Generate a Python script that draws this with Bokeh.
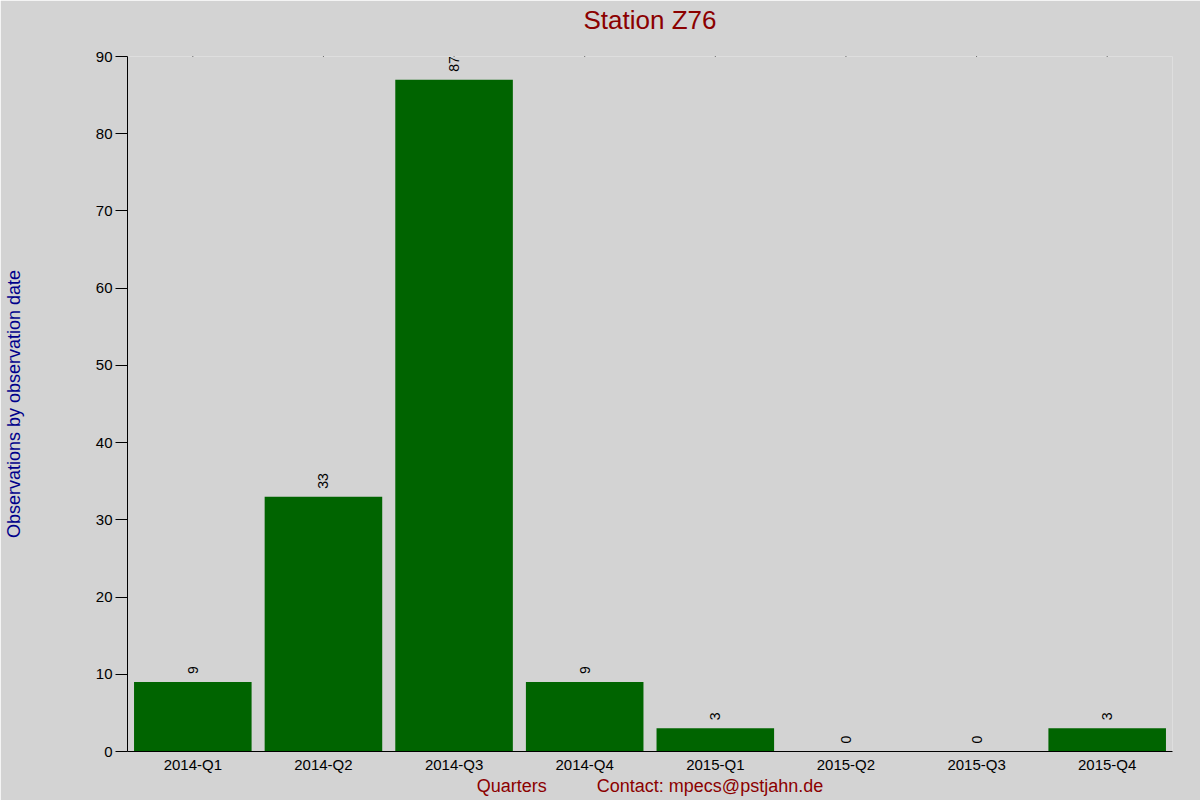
import math
from bokeh.plotting import figure
from bokeh.models import (FactorRange, Range1d, SingleIntervalTicker, ColumnDataSource,
                          CategoricalAxis, FixedTicker)
from bokeh.core.properties import value
from bokeh.embed import file_html
from bokeh.resources import INLINE

quarters = ["2014-Q1", "2014-Q2", "2014-Q3", "2014-Q4", "2015-Q1", "2015-Q2", "2015-Q3", "2015-Q4"]
counts = [9, 33, 87, 9, 3, 0, 0, 3]
count_labels = [str(c) for c in counts]
title_text = "Station Z76"
x_label = "Quarters" + "\u00a0" * 10 + "Contact: mpecs@pstjahn.de"
y_label = "Observations by observation date"
y_max = 90

FONT = "Liberation Sans"
BG = "#d3d3d3"

src = ColumnDataSource(dict(q=quarters, c=counts, t=count_labels, top=[y_max] * len(quarters)))

p = figure(
    width=1200, height=800,
    x_range=FactorRange(factors=quarters, range_padding=0),
    y_range=Range1d(0, y_max),
    output_backend="svg", toolbar_location=None,
    min_border_left=126, min_border_right=28, min_border_top=56, min_border_bottom=49,
)
p.background_fill_color = BG
p.border_fill_color = BG
p.outline_line_color = None
p.xgrid.grid_line_color = None
p.ygrid.grid_line_color = None

xa = p.below[0]
ya = p.left[0]

# top axis without ticks or labels: carries the chart title as its label
top = CategoricalAxis(axis_label=title_text, ticker=FixedTicker(ticks=[]))
top.axis_line_color = None
top.major_tick_in = 0
top.major_tick_out = 0
top.major_label_standoff = 0
top.axis_label_text_font = FONT
top.axis_label_text_font_size = "26px"
top.axis_label_text_font_style = "normal"
top.axis_label_text_color = "#8b0000"
top.axis_label_standoff = 22
p.add_layout(top, "above")

p.vbar(x="q", top="c", width=0.9, source=src, fill_color="#006400", line_color=None)
p.text(x="q", y="c", text="t", source=src, angle=math.pi / 2, text_align="left",
       text_baseline="middle", y_offset=-8, text_font=value(FONT),
       text_font_size="14px", text_color="black")
# tiny tick dots along the top edge at each category
p.rect(x="q", y="top", source=src, width=1, height=1, width_units="screen",
       height_units="screen", fill_color="black", line_color=None)

xa.axis_label = x_label
xa.axis_label_text_font = FONT
xa.axis_label_text_font_size = "18px"
xa.axis_label_text_font_style = "normal"
xa.axis_label_text_color = "#8b0000"
xa.axis_label_standoff = 0
xa.major_label_text_font = FONT
xa.major_label_text_font_size = "15px"
xa.major_label_text_color = "black"
xa.major_label_standoff = 4
xa.major_tick_in = 0
xa.major_tick_out = 0
xa.minor_tick_out = 0
xa.axis_line_color = "black"

ya.ticker = SingleIntervalTicker(interval=10)
ya.axis_label = y_label
ya.axis_label_text_font = FONT
ya.axis_label_text_font_size = "18px"
ya.axis_label_text_font_style = "normal"
ya.axis_label_text_color = "#00008b"
ya.axis_label_standoff = 69
ya.major_label_text_font = FONT
ya.major_label_text_font_size = "15px"
ya.major_label_text_color = "black"
ya.major_label_standoff = 3
ya.major_tick_in = 0
ya.major_tick_out = 12
ya.minor_tick_in = 0
ya.minor_tick_out = 0
ya.axis_line_color = "black"
ya.major_tick_line_color = "black"

open("out.html", "w").write(file_html(p, INLINE))
